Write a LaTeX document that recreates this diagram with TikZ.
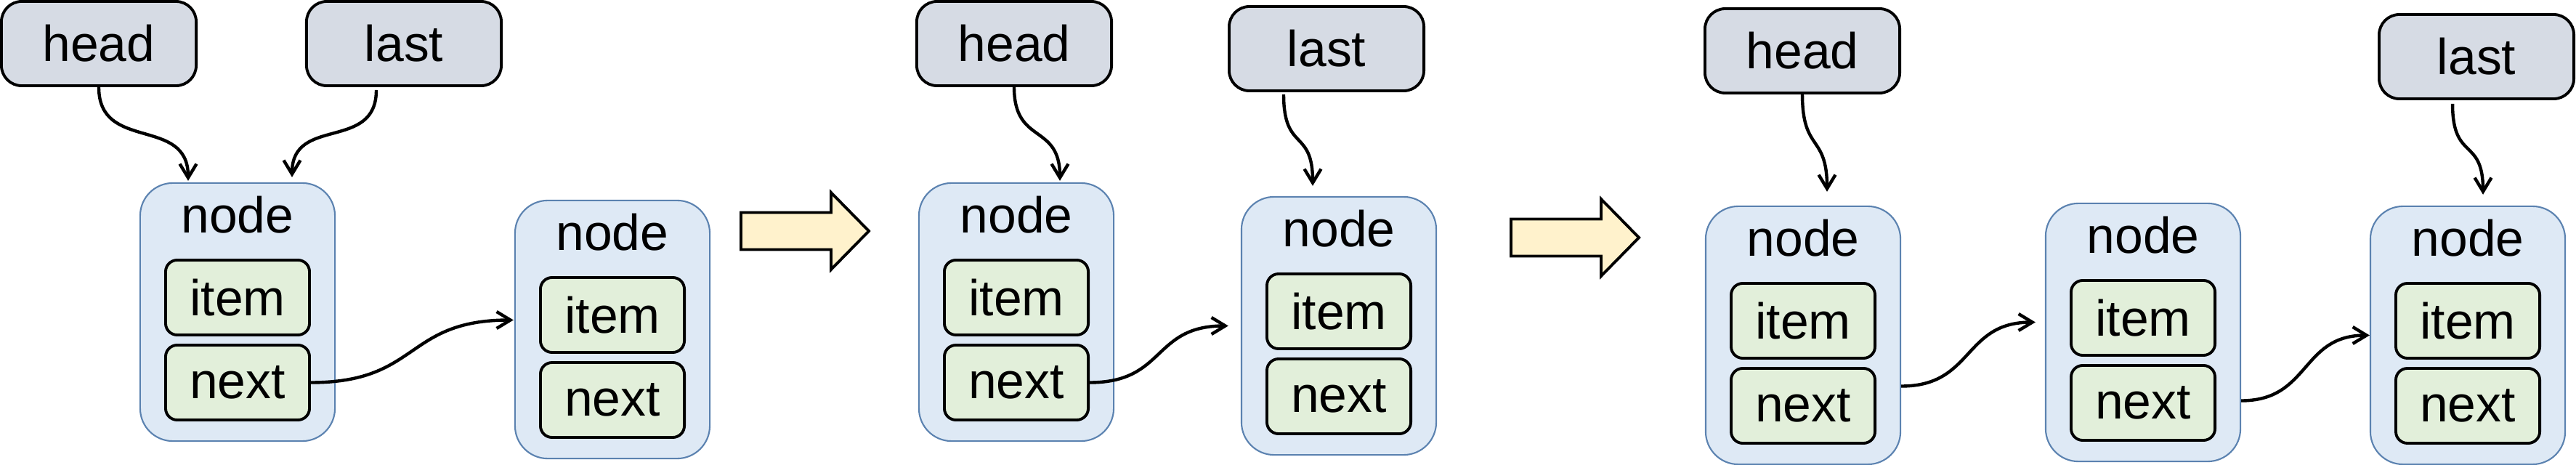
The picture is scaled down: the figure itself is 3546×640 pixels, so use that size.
\documentclass[tikz,border=0pt]{standalone}
\usepackage{fontspec}
\setmainfont{Liberation Sans}
\usetikzlibrary{arrows.meta,calc}
\definecolor{ptrfill}{HTML}{D6DBE4}
\definecolor{nodefill}{HTML}{DEE9F5}
\definecolor{nodeline}{HTML}{5B82B0}
\definecolor{fieldfill}{HTML}{E2EFDA}
\definecolor{bigarrow}{HTML}{FFF2CC}

\begin{document}
\begin{tikzpicture}[x=0.01cm, y=-0.01cm,
		font=\fontsize{19.8}{23}\selectfont,
		>={Straight Barb[length=1.9mm,width=2.3mm]},
		ptr/.style={draw, line width=1.1pt, fill=ptrfill, rounded corners=2.8mm, minimum width=2.68cm, minimum height=1.16cm, inner sep=0pt},
		listnode/.style={draw=nodeline, line width=0.6pt, fill=nodefill, rounded corners=4.5mm, minimum width=2.68cm, minimum height=3.55cm, inner sep=0pt},
		field/.style={draw, line width=1.1pt, fill=fieldfill, rounded corners=1.6mm, minimum width=1.98cm, minimum height=1.03cm, inner sep=0pt},
		link/.style={line width=1.25pt, ->}]
			\useasboundingbox (0,0) rectangle (3546,640);
			\foreach \n/\x/\y in {1/193/252, 2/709/276, 3/1265/252, 4/1709/271, 5/2348/284, 6/2816/280, 7/3263/284}
			{
				\node[listnode] (n\n) at (\x+134, \y+177.5) {};
				\node[] at (\x+134, \y+44) {node};
				\node[field] (it\n) at (\x+134, \y+157.5) {item};
				\node[field] (nx\n) at (\x+134, \y+274.5) {next};
			}
			\foreach \n/\t/\x/\y in {h1/head/2/2, l1/last/422/2, h2/head/1262/2, l2/last/1692/9, h3/head/2347/12, l3/last/3275/20}
				\node[ptr] (\n) at (\x+134, \y+58) {\t};

			\draw[link] (h1.south) .. controls +(0,90) and +(0,-90) .. ($(n1.north)+(-68,-2)$);
			\draw[link] ($(l1.south)+(-38,4)$) .. controls +(0,85) and +(0,-85) .. ($(n1.north)+(75,-7)$);
			\draw[link] (h2.south) .. controls +(0,80) and +(0,-80) .. ($(n3.north)+(60,-2)$);
			\draw[link] ($(l2.south)+(-59,3)$) .. controls +(0,80) and +(0,-80) .. ($(n4.north)+(-36,-14)$);
			\draw[link] (h3.south) .. controls +(0,80) and +(0,-80) .. ($(n5.north)+(33,-19)$);
			\draw[link] ($(l3.south)+(-33,5)$) .. controls +(0,80) and +(0,-80) .. ($(n7.north)+(21,-15)$);

			\draw[link] (nx1.east) .. controls +(150,0) and +(-150,0) .. ($(n2.west)+(-1,-13)$);
			\draw[link] (nx3.east) .. controls +(105,0) and +(-105,0) .. ($(n4.west)+(-17,0)$);
			\draw[link] ($(n5.east)+(0,70)$) .. controls +(100,0) and +(-100,0) .. ($(n6.west)+(-13,-14)$);
			\draw[link] ($(n6.east)+(0,94)$) .. controls +(95,0) and +(-95,0) .. (n7.west);

			\foreach \x/\y in {1020/318, 2080/327}
				\draw[line width=1.1pt, fill=bigarrow] (\x,\y-25.5) -- (\x+124,\y-25.5) -- (\x+124,\y-53) -- (\x+176,\y) -- (\x+124,\y+53) -- (\x+124,\y+25.5) -- (\x,\y+25.5) -- cycle;
		\end{tikzpicture}
\end{document}
